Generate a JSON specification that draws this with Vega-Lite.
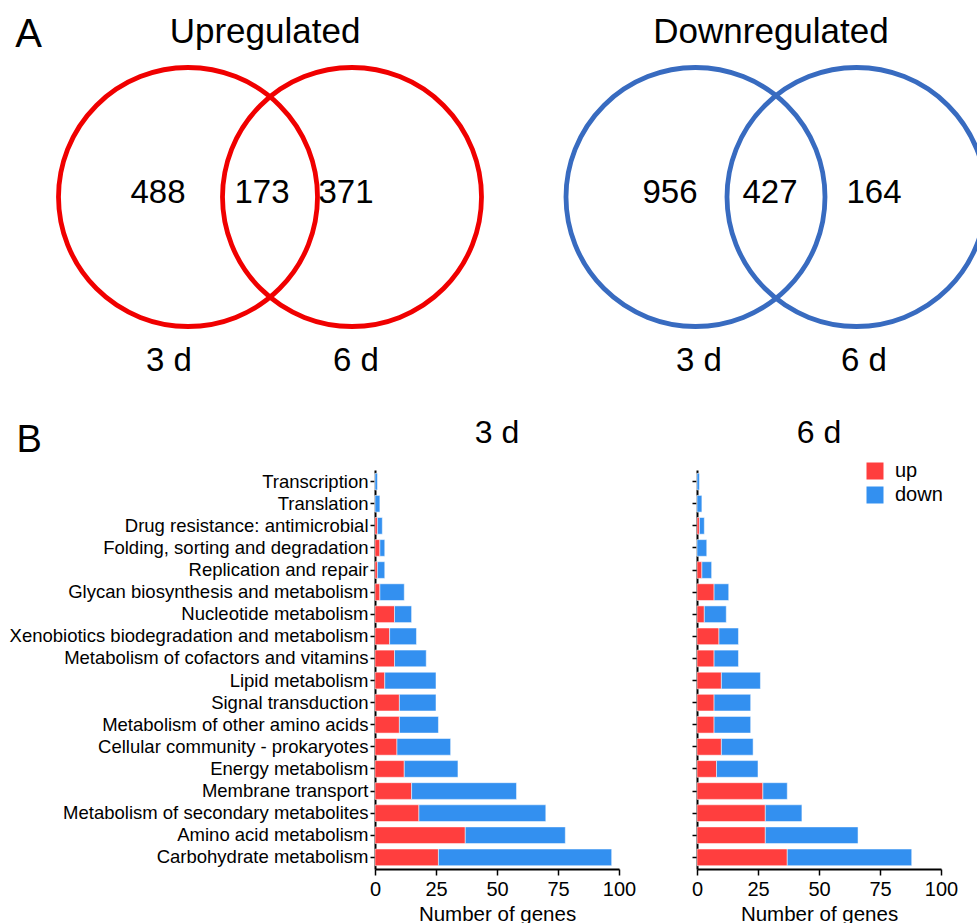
{
  "$schema": "https://vega.github.io/schema/vega-lite/v6.json",
  "padding": 0,
  "background": "white",
  "config": {
    "font": "Liberation Sans",
    "view": {"stroke": null},
    "axis": {"grid": false, "domainColor": "black", "tickColor": "black", "labelColor": "black", "titleColor": "black", "domainWidth": 2, "tickWidth": 1.5, "titleFontWeight": "normal"},
    "title": {"color": "black"},
    "legend": {"labelColor": "black"}
  },
  "datasets": {
    "vennCircles": [
      {"regulation": "Upregulated", "set": "3 d", "cx": 188, "cy": 197},
      {"regulation": "Upregulated", "set": "6 d", "cx": 352, "cy": 197},
      {"regulation": "Downregulated", "set": "3 d", "cx": 695.5, "cy": 197},
      {"regulation": "Downregulated", "set": "6 d", "cx": 856.5, "cy": 197}
    ],
    "vennHeaders": [
      {"label": "Upregulated", "cx": 265, "cy": 43},
      {"label": "Downregulated", "cx": 771, "cy": 43}
    ],
    "vennCounts": [
      {"regulation": "Upregulated", "region": "3 d only", "count": 488, "cx": 158, "cy": 203},
      {"regulation": "Upregulated", "region": "both", "count": 173, "cx": 262, "cy": 203},
      {"regulation": "Upregulated", "region": "6 d only", "count": 371, "cx": 346, "cy": 203},
      {"regulation": "Downregulated", "region": "3 d only", "count": 956, "cx": 670, "cy": 203},
      {"regulation": "Downregulated", "region": "both", "count": 427, "cx": 770, "cy": 203},
      {"regulation": "Downregulated", "region": "6 d only", "count": 164, "cx": 874, "cy": 203}
    ],
    "vennDays": [
      {"label": "3 d", "cx": 169, "cy": 371},
      {"label": "6 d", "cx": 356, "cy": 371},
      {"label": "3 d", "cx": 699, "cy": 371},
      {"label": "6 d", "cx": 864, "cy": 371}
    ],
    "panelLetter": [
      {"label": "A", "cx": 28.5, "cy": 47}
    ],
    "kegg": [
      {"day": "3 d", "pathway": "Transcription", "dir": "up", "n": 0},
      {"day": "3 d", "pathway": "Transcription", "dir": "down", "n": 1},
      {"day": "3 d", "pathway": "Translation", "dir": "up", "n": 0},
      {"day": "3 d", "pathway": "Translation", "dir": "down", "n": 2},
      {"day": "3 d", "pathway": "Drug resistance: antimicrobial", "dir": "up", "n": 1},
      {"day": "3 d", "pathway": "Drug resistance: antimicrobial", "dir": "down", "n": 2},
      {"day": "3 d", "pathway": "Folding, sorting and degradation", "dir": "up", "n": 2},
      {"day": "3 d", "pathway": "Folding, sorting and degradation", "dir": "down", "n": 2},
      {"day": "3 d", "pathway": "Replication and repair", "dir": "up", "n": 1},
      {"day": "3 d", "pathway": "Replication and repair", "dir": "down", "n": 3},
      {"day": "3 d", "pathway": "Glycan biosynthesis and metabolism", "dir": "up", "n": 2},
      {"day": "3 d", "pathway": "Glycan biosynthesis and metabolism", "dir": "down", "n": 10},
      {"day": "3 d", "pathway": "Nucleotide metabolism", "dir": "up", "n": 8},
      {"day": "3 d", "pathway": "Nucleotide metabolism", "dir": "down", "n": 7},
      {"day": "3 d", "pathway": "Xenobiotics biodegradation and metabolism", "dir": "up", "n": 6},
      {"day": "3 d", "pathway": "Xenobiotics biodegradation and metabolism", "dir": "down", "n": 11},
      {"day": "3 d", "pathway": "Metabolism of cofactors and vitamins", "dir": "up", "n": 8},
      {"day": "3 d", "pathway": "Metabolism of cofactors and vitamins", "dir": "down", "n": 13},
      {"day": "3 d", "pathway": "Lipid metabolism", "dir": "up", "n": 4},
      {"day": "3 d", "pathway": "Lipid metabolism", "dir": "down", "n": 21},
      {"day": "3 d", "pathway": "Signal transduction", "dir": "up", "n": 10},
      {"day": "3 d", "pathway": "Signal transduction", "dir": "down", "n": 15},
      {"day": "3 d", "pathway": "Metabolism of other amino acids", "dir": "up", "n": 10},
      {"day": "3 d", "pathway": "Metabolism of other amino acids", "dir": "down", "n": 16},
      {"day": "3 d", "pathway": "Cellular community - prokaryotes", "dir": "up", "n": 9},
      {"day": "3 d", "pathway": "Cellular community - prokaryotes", "dir": "down", "n": 22},
      {"day": "3 d", "pathway": "Energy metabolism", "dir": "up", "n": 12},
      {"day": "3 d", "pathway": "Energy metabolism", "dir": "down", "n": 22},
      {"day": "3 d", "pathway": "Membrane transport", "dir": "up", "n": 15},
      {"day": "3 d", "pathway": "Membrane transport", "dir": "down", "n": 43},
      {"day": "3 d", "pathway": "Metabolism of secondary metabolites", "dir": "up", "n": 18},
      {"day": "3 d", "pathway": "Metabolism of secondary metabolites", "dir": "down", "n": 52},
      {"day": "3 d", "pathway": "Amino acid metabolism", "dir": "up", "n": 37},
      {"day": "3 d", "pathway": "Amino acid metabolism", "dir": "down", "n": 41},
      {"day": "3 d", "pathway": "Carbohydrate metabolism", "dir": "up", "n": 26},
      {"day": "3 d", "pathway": "Carbohydrate metabolism", "dir": "down", "n": 71},
      {"day": "6 d", "pathway": "Transcription", "dir": "up", "n": 0},
      {"day": "6 d", "pathway": "Transcription", "dir": "down", "n": 1},
      {"day": "6 d", "pathway": "Translation", "dir": "up", "n": 0},
      {"day": "6 d", "pathway": "Translation", "dir": "down", "n": 2},
      {"day": "6 d", "pathway": "Drug resistance: antimicrobial", "dir": "up", "n": 1},
      {"day": "6 d", "pathway": "Drug resistance: antimicrobial", "dir": "down", "n": 2},
      {"day": "6 d", "pathway": "Folding, sorting and degradation", "dir": "up", "n": 0},
      {"day": "6 d", "pathway": "Folding, sorting and degradation", "dir": "down", "n": 4},
      {"day": "6 d", "pathway": "Replication and repair", "dir": "up", "n": 2},
      {"day": "6 d", "pathway": "Replication and repair", "dir": "down", "n": 4},
      {"day": "6 d", "pathway": "Glycan biosynthesis and metabolism", "dir": "up", "n": 7},
      {"day": "6 d", "pathway": "Glycan biosynthesis and metabolism", "dir": "down", "n": 6},
      {"day": "6 d", "pathway": "Nucleotide metabolism", "dir": "up", "n": 3},
      {"day": "6 d", "pathway": "Nucleotide metabolism", "dir": "down", "n": 9},
      {"day": "6 d", "pathway": "Xenobiotics biodegradation and metabolism", "dir": "up", "n": 9},
      {"day": "6 d", "pathway": "Xenobiotics biodegradation and metabolism", "dir": "down", "n": 8},
      {"day": "6 d", "pathway": "Metabolism of cofactors and vitamins", "dir": "up", "n": 7},
      {"day": "6 d", "pathway": "Metabolism of cofactors and vitamins", "dir": "down", "n": 10},
      {"day": "6 d", "pathway": "Lipid metabolism", "dir": "up", "n": 10},
      {"day": "6 d", "pathway": "Lipid metabolism", "dir": "down", "n": 16},
      {"day": "6 d", "pathway": "Signal transduction", "dir": "up", "n": 7},
      {"day": "6 d", "pathway": "Signal transduction", "dir": "down", "n": 15},
      {"day": "6 d", "pathway": "Metabolism of other amino acids", "dir": "up", "n": 7},
      {"day": "6 d", "pathway": "Metabolism of other amino acids", "dir": "down", "n": 15},
      {"day": "6 d", "pathway": "Cellular community - prokaryotes", "dir": "up", "n": 10},
      {"day": "6 d", "pathway": "Cellular community - prokaryotes", "dir": "down", "n": 13},
      {"day": "6 d", "pathway": "Energy metabolism", "dir": "up", "n": 8},
      {"day": "6 d", "pathway": "Energy metabolism", "dir": "down", "n": 17},
      {"day": "6 d", "pathway": "Membrane transport", "dir": "up", "n": 27},
      {"day": "6 d", "pathway": "Membrane transport", "dir": "down", "n": 10},
      {"day": "6 d", "pathway": "Metabolism of secondary metabolites", "dir": "up", "n": 28},
      {"day": "6 d", "pathway": "Metabolism of secondary metabolites", "dir": "down", "n": 15},
      {"day": "6 d", "pathway": "Amino acid metabolism", "dir": "up", "n": 28},
      {"day": "6 d", "pathway": "Amino acid metabolism", "dir": "down", "n": 38},
      {"day": "6 d", "pathway": "Carbohydrate metabolism", "dir": "up", "n": 37},
      {"day": "6 d", "pathway": "Carbohydrate metabolism", "dir": "down", "n": 51}
    ]
  },
  "spacing": 17,
  "resolve": {"scale": {"x": "independent", "y": "independent", "color": "independent"}, "legend": {"color": "independent"}},
  "vconcat": [
    {
      "width": 602,
      "height": 400,
      "layer": [
        {
          "data": {"name": "vennCircles"},
          "mark": {"type": "point", "shape": "circle", "filled": false, "size": 67081, "strokeWidth": 4.8, "opacity": 1},
          "encoding": {
            "x": {"field": "cx", "type": "quantitative", "scale": {"domain": [375, 977], "nice": false, "zero": false}, "axis": null},
            "y": {"field": "cy", "type": "quantitative", "scale": {"domain": [400, 0], "nice": false, "zero": false}, "axis": null},
            "color": {"field": "regulation", "type": "nominal", "scale": {"domain": ["Upregulated", "Downregulated"], "range": ["#F00000", "#386BC0"]}, "legend": null}
          }
        },
        {
          "data": {"name": "vennHeaders"},
          "mark": {"type": "text", "fontSize": 35, "baseline": "alphabetic", "align": "center", "color": "black"},
          "encoding": {
            "x": {"field": "cx", "type": "quantitative"},
            "y": {"field": "cy", "type": "quantitative"},
            "text": {"field": "label"}
          }
        },
        {
          "data": {"name": "vennCounts"},
          "mark": {"type": "text", "fontSize": 33, "baseline": "alphabetic", "align": "center", "color": "black"},
          "encoding": {
            "x": {"field": "cx", "type": "quantitative"},
            "y": {"field": "cy", "type": "quantitative"},
            "text": {"field": "count"}
          }
        },
        {
          "data": {"name": "vennDays"},
          "mark": {"type": "text", "fontSize": 33, "baseline": "alphabetic", "align": "center", "color": "black"},
          "encoding": {
            "x": {"field": "cx", "type": "quantitative"},
            "y": {"field": "cy", "type": "quantitative"},
            "text": {"field": "label"}
          }
        },
        {
          "data": {"name": "panelLetter"},
          "mark": {"type": "text", "fontSize": 40, "baseline": "alphabetic", "align": "center", "color": "black"},
          "encoding": {
            "x": {"field": "cx", "type": "quantitative"},
            "y": {"field": "cy", "type": "quantitative"},
            "text": {"field": "label"}
          }
        }
      ]
    },
    {
      "spacing": 41,
      "resolve": {"scale": {"y": "independent", "x": "independent", "color": "independent"}, "legend": {"color": "independent"}},
      "hconcat": [
        {
          "width": 244,
          "height": 399,
          "data": {"name": "kegg"},
          "transform": [{"filter": "datum.day === '3 d'"}],
          "title": {"text": "3 d", "fontSize": 32, "fontWeight": "normal", "frame": "group", "anchor": "middle", "baseline": "alphabetic", "offset": -54},
          "mark": {"type": "bar", "stroke": "white", "strokeWidth": 1, "strokeOpacity": 0.5},
          "encoding": {
            "y": {
              "field": "pathway", "type": "nominal",
              "sort": ["Transcription", "Translation", "Drug resistance: antimicrobial", "Folding, sorting and degradation", "Replication and repair", "Glycan biosynthesis and metabolism", "Nucleotide metabolism", "Xenobiotics biodegradation and metabolism", "Metabolism of cofactors and vitamins", "Lipid metabolism", "Signal transduction", "Metabolism of other amino acids", "Cellular community - prokaryotes", "Energy metabolism", "Membrane transport", "Metabolism of secondary metabolites", "Amino acid metabolism", "Carbohydrate metabolism"],
              "scale": {"paddingInner": 0.245, "paddingOuter": 0.15},
              "axis": {"title": "B", "titleAngle": 0, "titleX": -359, "titleY": -19, "titleAlign": "left", "titleBaseline": "alphabetic", "titleFontSize": 38, "labelFontSize": 18.5, "labelPadding": 2, "labelLimit": 450, "tickSize": 5, "minExtent": 375}
            },
            "x": {
              "field": "n", "type": "quantitative", "stack": "zero",
              "scale": {"domain": [0, 100], "nice": false},
              "axis": {"values": [0, 25, 50, 75, 100], "labelFontSize": 20, "labelFlush": false, "title": "Number of genes", "titleFontSize": 20.5, "tickSize": 6, "labelPadding": 4, "titlePadding": 5}
            },
            "color": {"field": "dir", "type": "nominal", "scale": {"domain": ["up", "down"], "range": ["#FF3E3E", "#3390F0"]}, "legend": null},
            "order": {"field": "dir", "sort": "descending"}
          }
        },
        {
          "width": 244,
          "height": 399,
          "data": {"name": "kegg"},
          "transform": [{"filter": "datum.day === '6 d'"}],
          "title": {"text": "6 d", "fontSize": 32, "fontWeight": "normal", "frame": "group", "anchor": "middle", "baseline": "alphabetic", "offset": -14},
          "mark": {"type": "bar", "stroke": "white", "strokeWidth": 1, "strokeOpacity": 0.5},
          "encoding": {
            "y": {
              "field": "pathway", "type": "nominal",
              "sort": ["Transcription", "Translation", "Drug resistance: antimicrobial", "Folding, sorting and degradation", "Replication and repair", "Glycan biosynthesis and metabolism", "Nucleotide metabolism", "Xenobiotics biodegradation and metabolism", "Metabolism of cofactors and vitamins", "Lipid metabolism", "Signal transduction", "Metabolism of other amino acids", "Cellular community - prokaryotes", "Energy metabolism", "Membrane transport", "Metabolism of secondary metabolites", "Amino acid metabolism", "Carbohydrate metabolism"],
              "scale": {"paddingInner": 0.245, "paddingOuter": 0.15},
              "axis": {"title": null, "labels": false, "tickSize": 5, "minExtent": 20}
            },
            "x": {
              "field": "n", "type": "quantitative", "stack": "zero",
              "scale": {"domain": [0, 100], "nice": false},
              "axis": {"values": [0, 25, 50, 75, 100], "labelFontSize": 20, "labelFlush": false, "title": "Number of genes", "titleFontSize": 20.5, "tickSize": 6, "labelPadding": 4, "titlePadding": 5}
            },
            "color": {
              "field": "dir", "type": "nominal",
              "scale": {"domain": ["up", "down"], "range": ["#FF3E3E", "#3390F0"]},
              "legend": {"orient": "none", "legendX": 168, "legendY": -9, "title": null, "symbolType": "square", "symbolSize": 289, "symbolStrokeWidth": 0, "labelFontSize": 20, "labelOffset": 10, "rowPadding": 4, "padding": 0}
            },
            "order": {"field": "dir", "sort": "descending"}
          }
        }
      ]
    }
  ]
}
